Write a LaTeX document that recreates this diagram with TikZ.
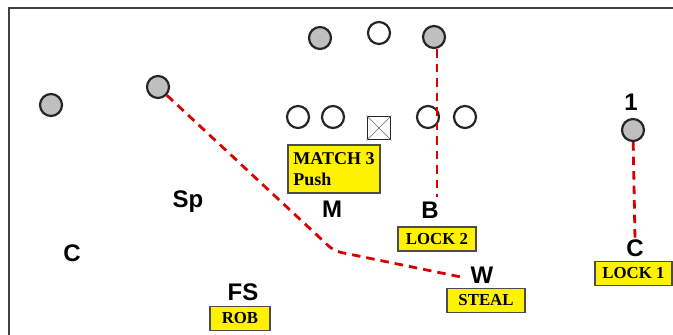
\documentclass[tikz,border=0pt]{standalone}
\usepackage{fontspec}
\setmainfont{Liberation Serif}
\setsansfont{Liberation Sans}
\begin{document}
\begin{tikzpicture}[x=1pt, y=-1pt,
  man/.style={circle, draw=black!85, line width=2.2pt, minimum size=22pt, inner sep=0pt},
  def/.style={man, fill=black!25},
  tag/.style={font=\sffamily\bfseries\fontsize{24}{24}\selectfont, inner sep=0pt, text depth=0pt},
  call/.style={draw=black!70, line width=1.4pt, fill=yellow, font=\bfseries\fontsize{16.8}{20.5}\selectfont,
    inner xsep=3pt, inner ysep=2pt, minimum height=24pt},
  route/.style={draw=red!85!black, line width=2.8pt, dash pattern=on 8.5pt off 6pt}
]
\useasboundingbox (0,0) rectangle (673,335);
\draw[black!75, line width=2pt] (8.5,336) |- (674,7.5);

\foreach \x/\y [count=\i] in {379/33, 298/117, 333/117, 428/117, 465/117} {
  \node[man] (o\i) at (\x,\y) {};
}
\foreach \x/\y [count=\i] in {51/105, 158/87, 320/38, 434/37, 633/130} {
  \node[def] (d\i) at (\x,\y) {};
}
\node[draw=black!85, line width=1.8pt, minimum size=23pt, inner sep=0pt] (ctr) at (379,128) {};
\draw[black!60, thin] (ctr.north west) -- (ctr.south east) (ctr.north east) -- (ctr.south west);

\foreach \n/\x/\y/\t in {one/631/102/1, sp/188/199/Sp, m/332/209/M, b/430/210/B,
    c/72/253/C, cr/635/248/C, w/482/275/W, fs/243/292/FS} {
  \node[tag] (\n) at (\x,\y) {\t};
}

\node[call, font=\bfseries\fontsize{18}{20.5}\selectfont, minimum width=92pt, minimum height=48pt, align=left] (mt) at (334,169) {MATCH 3\\Push};
\foreach \n/\x/\y/\w/\t in {lk2/437/239/78/LOCK 2, stl/486/300.5/78/STEAL,
    lk1/633.5/273.5/77/LOCK 1, rob/240/318.5/60/ROB} {
  \node[call, minimum width=\w pt] (\n) at (\x,\y) {\t};
}

\coordinate (bend) at (334,251);
\coordinate (wend) at (461,277);
\coordinate (bstop) at (437,197);
\draw[route, rounded corners=7pt] (d2) -- (bend) -- (wend);
\draw[route] (d4.south -| bstop) -- (bstop);
\draw[route] (d5) -- (cr.north);
\end{tikzpicture}
\end{document}
